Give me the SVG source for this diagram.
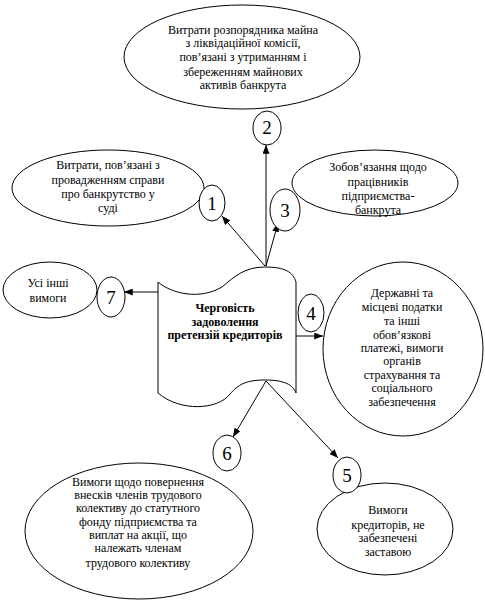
<svg xmlns="http://www.w3.org/2000/svg" width="485" height="602" viewBox="0 0 485 602">
<style>
.sh{fill:#fff;stroke:#000;stroke-width:1}
.t{font-family:"Liberation Serif","DejaVu Serif","Noto Serif",serif;font-size:12px;fill:#000;text-anchor:middle}
.b{font-weight:bold}
.n{font-family:"Liberation Serif","DejaVu Serif","Noto Serif",serif;font-size:19px;fill:#000;text-anchor:middle}
.c{stroke:#000;stroke-width:1;fill:none;marker-end:url(#ah)}
</style>
<defs>
<marker id="ah" viewBox="0 0 10 8" refX="10" refY="4" markerWidth="9" markerHeight="7" markerUnits="userSpaceOnUse" orient="auto">
<path d="M0,0 L10,4 L0,8 Z" fill="#000"/>
</marker>
</defs>
<rect width="485" height="602" fill="#fff"/>
<g id="connectors">
<line class="c" x1="266" y1="266" x2="266" y2="145"/>
<line class="c" x1="265" y1="266" x2="222" y2="216"/>
<line class="c" x1="266" y1="266" x2="278" y2="223"/>
<line class="c" x1="158" y1="292" x2="124" y2="292"/>
<line class="c" x1="296" y1="336" x2="323" y2="336"/>
<line class="c" x1="266" y1="381" x2="233" y2="437"/>
<line class="c" x1="266" y1="381" x2="338" y2="458"/>
</g>
<g id="node-2">
<ellipse class="sh" cx="242" cy="57" rx="118" ry="52"/>
<text class="t" x="243" y="34" font-family="Liberation Serif, serif">Витрати розпорядника майна</text>
<text class="t" x="243" y="47">з ліквідаційної комісії,</text>
<text class="t" x="243" y="61">пов’язані з утриманням і</text>
<text class="t" x="243" y="76">збереженням майнових</text>
<text class="t" x="243" y="89">активів банкрута</text>
<ellipse class="sh" cx="267" cy="128" rx="14" ry="17"/>
<text class="n" x="267" y="134">2</text>
</g>
<g id="node-1">
<ellipse class="sh" cx="108" cy="188" rx="96" ry="38"/>
<text class="t" x="108" y="169">Витрати, пов’язані з</text>
<text class="t" x="108" y="184">провадженням справи</text>
<text class="t" x="108" y="198">про банкрутство у</text>
<text class="t" x="108" y="212">суді</text>
<ellipse class="sh" cx="212" cy="203" rx="13" ry="18"/>
<text class="n" x="212" y="210">1</text>
</g>
<g id="node-3">
<ellipse class="sh" cx="375" cy="183" rx="83" ry="33"/>
<text class="t" x="378" y="171">Зобов’язання щодо</text>
<text class="t" x="378" y="186">працівників</text>
<text class="t" x="378" y="200">підприємства-</text>
<text class="t" x="378" y="214">банкрута</text>
<ellipse class="sh" cx="285" cy="210" rx="15" ry="21"/>
<text class="n" x="285" y="217">3</text>
</g>
<g id="node-7">
<ellipse class="sh" cx="50" cy="290" rx="47" ry="28"/>
<text class="t" x="48" y="287">Усі інші</text>
<text class="t" x="48" y="302">вимоги</text>
<ellipse class="sh" cx="111" cy="297" rx="14" ry="20"/>
<text class="n" x="111" y="304">7</text>
</g>
<g id="node-center">
<path class="sh" d="M158,282 C172,294 200,300 222,287 C235,276 245,267 265,267 C285,267 293,272 296,282 L296,393 C293,385 285,380 265,380 C245,380 238,385 230,394 C218,410 180,412 158,393 Z"/>
<text class="t b" x="225" y="312">Черговість</text>
<text class="t b" x="225" y="326">задоволення</text>
<text class="t b" x="225" y="339">претензій кредиторів</text>
</g>
<g id="node-4">
<ellipse class="sh" cx="403" cy="349" rx="80" ry="87"/>
<text class="t" x="402" y="297">Державні та</text>
<text class="t" x="402" y="311">місцеві податки</text>
<text class="t" x="402" y="325">та інші</text>
<text class="t" x="402" y="339">обов’язкові</text>
<text class="t" x="402" y="352">платежі, вимоги</text>
<text class="t" x="402" y="365">органів</text>
<text class="t" x="402" y="379">страхування та</text>
<text class="t" x="402" y="392">соціального</text>
<text class="t" x="402" y="406">забезпечення</text>
<ellipse class="sh" cx="311" cy="313" rx="13" ry="19"/>
<text class="n" x="311" y="320">4</text>
</g>
<g id="node-6">
<ellipse class="sh" cx="139" cy="531" rx="114" ry="68"/>
<text class="t" x="138" y="486">Вимоги щодо повернення</text>
<text class="t" x="138" y="499">внесків членів трудового</text>
<text class="t" x="138" y="512">колективу до статутного</text>
<text class="t" x="138" y="526">фонду підприємства та</text>
<text class="t" x="138" y="539">виплат на акції, що</text>
<text class="t" x="138" y="552">належать членам</text>
<text class="t" x="138" y="567">трудового колективу</text>
<ellipse class="sh" cx="227" cy="453" rx="14" ry="18"/>
<text class="n" x="227" y="460">6</text>
</g>
<g id="node-5">
<ellipse class="sh" cx="385" cy="529" rx="68" ry="46"/>
<text class="t" x="388" y="514">Вимоги</text>
<text class="t" x="388" y="529">кредиторів, не</text>
<text class="t" x="388" y="542">забезпечені</text>
<text class="t" x="388" y="556">заставою</text>
<ellipse class="sh" cx="347" cy="475" rx="14" ry="18"/>
<text class="n" x="347" y="482">5</text>
</g>
</svg>
